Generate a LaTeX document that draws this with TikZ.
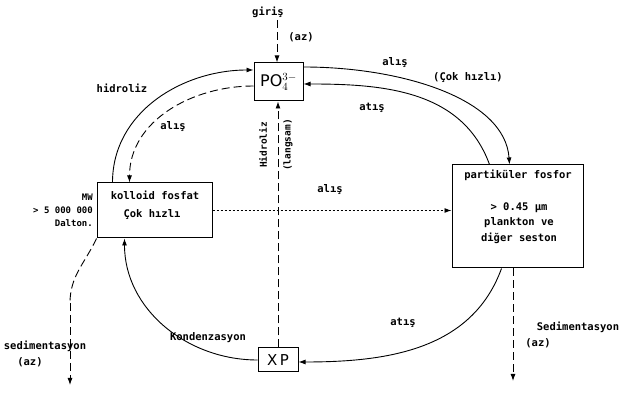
\documentclass[tikz,border=0pt]{standalone}
\usepackage{fontspec}
\setmainfont{DejaVu Sans Mono}
\setsansfont{DejaVu Sans}
\usetikzlibrary{arrows.meta}
\begin{document}
\begin{tikzpicture}[x=1pt,y=1pt,font=\fontsize{10.5}{12}\selectfont\bfseries]
\tikzset{
 box/.style={draw,line width=1pt,inner sep=0pt},
 arr/.style={-{Latex[length=7pt,width=5pt]},line width=0.9pt},
 dsh/.style={dash pattern=on 8pt off 4pt},
 dotl/.style={dash pattern=on 2pt off 2pt},
 lbl/.style={inner sep=1pt}
}
\useasboundingbox (0,0) rectangle (637,398);
% boxes
\node[box,minimum width=49pt,minimum height=38pt,font=\fontsize{16}{16}\sffamily] (po) at (278.5,316) {PO$_4^{3-}$};
\node[box,minimum width=115pt,minimum height=55pt] (kol) at (154.5,187.5) {};
\node[box,minimum width=131pt,minimum height=103pt] (par) at (517.5,181.5) {};
\node[box,minimum width=40pt,minimum height=24pt,font=\fontsize{15}{15}\sffamily] (xp) at (278,38) {X\,P};
% box texts
\node[lbl] (kolt1) at (155,203) {kolloid fosfat};
\node[lbl] (kolt2) at (152,183) {Çok hızlı};
\node[lbl,align=right,anchor=east,font=\fontsize{9}{13}\selectfont\bfseries] (mw) at (94,188) {MW\\> 5 000 000\\Dalton.};
\node[lbl] (part1) at (518,223) {partiküler fosfor};
\node[lbl,align=center,font=\fontsize{10.5}{15.5}\selectfont\bfseries] (part2) at (519,175) {> 0.45 µm\\plankton ve\\diğer seston};
% coordinates
\coordinate (gin) at (277,378);
\coordinate (sedlm) at (70,95);
\coordinate (sedl) at (70,13);
\coordinate (sedr) at (513,17);
% connectors
\draw[arr,dsh] (gin) -- (gin |- po.north);
\draw[arr] ([xshift=16pt]kol.north west) to[out=90,in=180] ([yshift=12pt]po.west);
\draw[arr,dsh] ([yshift=-4pt]po.west) to[out=180,in=90] ([xshift=33pt]kol.north west);
\draw[arr] ([yshift=15pt]po.east) .. controls (400,331) and (505,300) .. ([xshift=58pt]par.north west);
\draw[arr] ([xshift=38pt]par.north west) to[out=110,in=0] ([yshift=-2pt]po.east);
\draw[arr,dotl] (kol.east) -- (par.west |- kol.east);
\draw[arr] (xp.west) to[out=180,in=-90] ([xshift=28pt]kol.south west);
\draw[arr] ([xshift=50pt]par.south west) to[out=-110,in=0] ([yshift=-2pt]xp.east);
\draw[arr,dsh] (xp.north) -- (xp.north |- po.south);
\draw[dsh,line width=0.9pt] (kol.south west) to[out=-115,in=90] (sedlm);
\draw[arr,dsh] (sedlm) -- (sedl);
\draw[arr,dsh] (sedr |- par.south) -- (sedr);
% labels
\node[lbl] (l1) at (268,386) {giriş};
\node[lbl] (l2) at (301,361) {(az)};
\node[lbl] (l3) at (122,310) {hidroliz};
\node[lbl] (l4) at (173,271) {alış};
\node[lbl] (l5) at (395,335) {alış};
\node[lbl] (l6) at (468,320) {(Çok hızlı)};
\node[lbl] (l7) at (372,290) {atış};
\node[lbl] (l8) at (330,208) {alış};
\node[lbl,rotate=90,font=\fontsize{9.5}{11}\selectfont\bfseries] (l9) at (263,253) {Hidroliz};
\node[lbl,rotate=90,font=\fontsize{9.5}{11}\selectfont\bfseries] (l10) at (288,253) {(langsam)};
\node[lbl] (l11) at (208,60) {Kondenzasyon};
\node[lbl] (l12) at (403,75) {atış};
\node[lbl] (l13) at (45,52) {sedimentasyon};
\node[lbl] (l14) at (30,36) {(az)};
\node[lbl] (l15) at (578,71) {Sedimentasyon};
\node[lbl] (l16) at (538,55) {(az)};
\end{tikzpicture}
\end{document}
